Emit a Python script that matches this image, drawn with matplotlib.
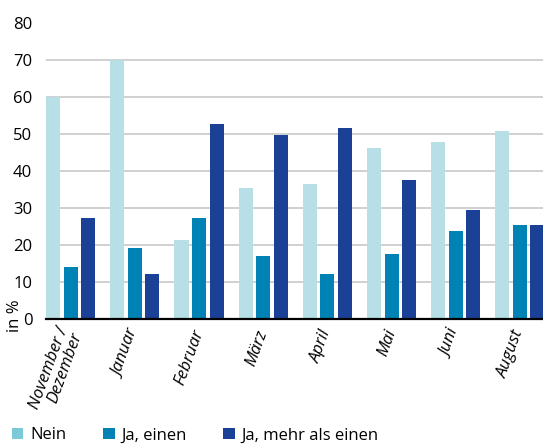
import numpy as np
import matplotlib
matplotlib.use("Agg")
import matplotlib.pyplot as plt
from matplotlib.patches import Patch

# Daten
monate = ["November /\nDezember", "Januar", "Februar", "März", "April", "Mai", "Juni", "August"]
nein = [60.0, 70.0, 21.4, 35.4, 36.5, 46.2, 47.8, 50.8]
ja_einen = [14.0, 19.2, 27.3, 17.0, 12.2, 17.6, 23.8, 25.4]
ja_mehr = [27.3, 12.2, 52.7, 49.7, 51.6, 37.6, 29.5, 25.4]
serien = ["Nein", "Ja, einen", "Ja, mehr als einen"]
farben = ["#b7e0e6", "#0082b4", "#1a4196"]
legende_farben = ["#7ccad7", "#0082b4", "#1a4196"]

plt.rcParams['font.family'] = ['Open Sans', 'DejaVu Sans']

fig = plt.figure(figsize=(5.43, 4.45), dpi=100)
ax = fig.add_axes([0.085, 0.283, 0.915, 0.665])

x = np.arange(len(monate))
w = 0.22
d = 0.273
for i, (werte, name) in enumerate(zip([nein, ja_einen, ja_mehr], serien)):
    ax.bar(x + (i - 1) * d, werte, width=w, color=farben[i], label=name, zorder=3)

ax.set_ylim(0, 80)
ax.set_xlim(-0.383, 7.36)
ax.set_yticks(range(0, 81, 10))
ax.tick_params(axis='y', length=0, labelsize=12, pad=10)
ax.yaxis.grid(True, color="#c8c8c8", linewidth=1.2, zorder=0)
ax.get_ygridlines()[-1].set_visible(False)
ax.get_ygridlines()[0].set_visible(False)

ax.set_xticks(x)
ax.set_xticklabels(monate, rotation=70, ha='right', va='center', rotation_mode='anchor',
                   fontsize=12, style='italic', linespacing=0.95)
ax.tick_params(axis='x', length=0, pad=8)

for s in ['top', 'right', 'left']:
    ax.spines[s].set_visible(False)
ax.spines['bottom'].set_linewidth(1.6)
ax.spines['bottom'].set_color('black')
ax.spines['bottom'].set_zorder(4)

# y-Beschriftung unten links neben der 0
fig.text(0.027, 0.255, "in %", rotation=90, fontsize=12, ha='center', va='bottom')

handles = [Patch(facecolor=c, label=n) for c, n in zip(legende_farben, serien)]
fig.legend(handles=handles, loc='lower left', bbox_to_anchor=(-0.006, -0.03), ncol=3,
           frameon=False, fontsize=12, handlelength=0.7, handleheight=0.7,
           handletextpad=0.4, columnspacing=2.2)

fig.savefig("out.png", dpi=100)
